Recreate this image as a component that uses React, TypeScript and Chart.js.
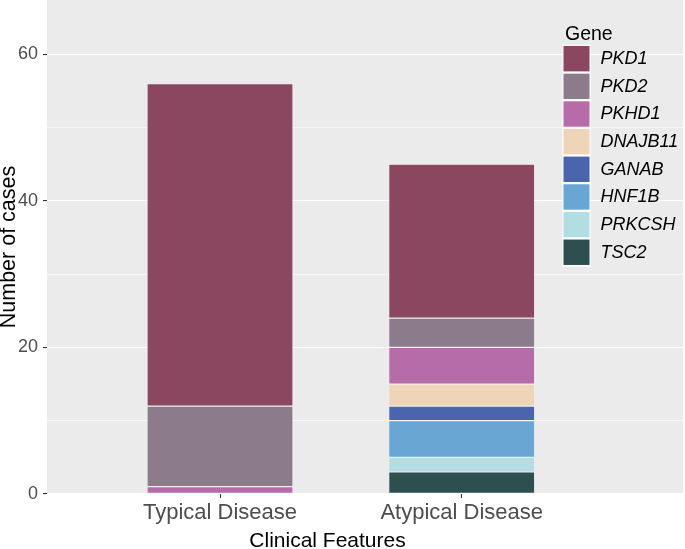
import React, { useEffect, useRef } from "react";
import { Chart, registerables } from "chart.js";

Chart.register(...registerables);

const categories = ["Typical Disease", "Atypical Disease"];
const genes = ["PKD1", "PKD2", "PKHD1", "DNAJB11", "GANAB", "HNF1B", "PRKCSH", "TSC2"];
const typicalCounts = [44, 11, 1, 0, 0, 0, 0, 0];
const atypicalCounts = [21, 4, 5, 3, 2, 5, 2, 3];
const geneColors = ["#8B4660", "#8C7B8B", "#B66CA8", "#EFD5B7", "#4A64AE", "#6AA6D3", "#B3DDE3", "#2E4F4F"];
const yMajorTicks = [0, 20, 40, 60];
const yMinorTicks = [10, 30, 50];
const xTitle = "Clinical Features";
const yTitle = "Number of cases";
const legendTitle = "Gene";

const FONT = "'Liberation Sans', Arial, Helvetica, sans-serif";

export default function App() {
  const ref = useRef<HTMLCanvasElement | null>(null);

  useEffect(() => {
    document.body.style.margin = "0";
    const canvas = ref.current;
    if (!canvas) return;

    // stack bottom-up: last gene at the bottom
    const order = genes.map((_, i) => i).reverse();
    const datasets = order.map((i) => ({
      label: genes[i],
      backgroundColor: geneColors[i],
      borderColor: "rgba(255,255,255,0.35)",
      borderWidth: 0.6,
      borderSkipped: false,
      barPercentage: 0.604,
      categoryPercentage: 1,
      data: [
        { x: 1, y: typicalCounts[i] },
        { x: 2, y: atypicalCounts[i] },
      ].filter((p) => p.y > 0),
    }));

    const panelBg = {
      id: "panelBg",
      beforeDraw(chart: any) {
        const { ctx, chartArea } = chart;
        ctx.save();
        ctx.fillStyle = "#EBEBEB";
        ctx.fillRect(chartArea.left, chartArea.top, chartArea.right - chartArea.left, chartArea.bottom - chartArea.top);
        ctx.restore();
      },
    };

    const overlay = {
      id: "overlay",
      afterDraw(chart: any) {
        const { ctx } = chart;
        ctx.save();
        // x axis title
        ctx.fillStyle = "#000000";
        ctx.font = `21px ${FONT}`;
        ctx.textAlign = "center";
        ctx.textBaseline = "alphabetic";
        ctx.fillText(xTitle, 327.5, 547);

        // legend
        ctx.textAlign = "left";
        ctx.font = `19.5px ${FONT}`;
        ctx.fillText(legendTitle, 565, 40);
        const kx = 563.5;
        const ky = 46;
        const step = 27.65;
        ctx.fillStyle = "#FFFFFF";
        ctx.fillRect(kx - 1, ky - 1.2, 28, step * genes.length + 0.6);
        genes.forEach((g, i) => {
          const y = ky + i * step;
          ctx.fillStyle = geneColors[i];
          ctx.fillRect(kx, y, 26, 25.4);
          ctx.fillStyle = "#000000";
          ctx.font = `italic 18px ${FONT}`;
          ctx.textBaseline = "middle";
          ctx.fillText(g, 600.5, y + 13);
        });
        ctx.restore();
      },
    };

    const chart = new Chart(canvas, {
      type: "bar",
      data: { datasets: datasets as any },
      plugins: [panelBg, overlay],
      options: {
        responsive: false,
        animation: false,
        devicePixelRatio: 1,
        layout: { padding: { top: 0, right: 2, left: 0, bottom: 0 } },
        plugins: {
          legend: { display: false },
          tooltip: { enabled: false },
        },
        scales: {
          x: {
            type: "linear",
            stacked: true,
            offset: false,
            min: 0.2842,
            max: 2.9156,
            afterBuildTicks(scale: any) {
              scale.ticks = categories.map((_, i) => ({ value: i + 1 }));
            },
            afterFit(scale: any) {
              scale.height = 55;
              scale.paddingLeft = 0;
              scale.paddingRight = 0;
            },
            grid: {
              offset: false,
              drawOnChartArea: false,
              drawTicks: true,
              tickLength: 4,
              tickColor: "#333333",
              tickWidth: 1.1,
            },
            border: { display: false },
            ticks: {
              autoSkip: false,
              maxRotation: 0,
              padding: 2,
              color: "#4D4D4D",
              font: { family: FONT, size: 22 },
              callback: (v: any) => categories[Math.round(Number(v)) - 1] ?? "",
            },
            title: { display: false },
          },
          y: {
            type: "linear",
            stacked: true,
            min: 0,
            max: 67.4,
            afterBuildTicks(scale: any) {
              scale.ticks = [...yMajorTicks, ...yMinorTicks]
                .sort((a, b) => a - b)
                .map((v) => ({ value: v }));
            },
            afterFit(scale: any) {
              scale.width = 47;
              scale.paddingTop = 0;
              scale.paddingBottom = 0;
            },
            grid: {
              color: "#FFFFFF",
              lineWidth: (c: any) => (yMajorTicks.includes(c.tick?.value) ? 1.1 : 0.55),
              tickColor: (c: any) => (yMajorTicks.includes(c.tick?.value) ? "#333333" : "rgba(0,0,0,0)"),
              tickLength: 4,
              tickWidth: 1.1,
            },
            border: { display: false },
            ticks: {
              padding: 5,
              color: "#4D4D4D",
              font: { family: FONT, size: 18 },
              callback: (v: any) => (yMajorTicks.includes(Number(v)) ? String(v) : ""),
            },
            title: {
              display: true,
              text: yTitle,
              color: "#000000",
              font: { family: FONT, size: 21.5, lineHeight: 1 },
              padding: { top: -1.5, bottom: 0 },
            },
          },
        },
      },
    });

    return () => chart.destroy();
  }, []);

  return (
    <div style={{ position: "absolute", left: 0, top: 0, width: 685, height: 549, background: "#FFFFFF" }}>
      <canvas ref={ref} width={685} height={549} style={{ width: 685, height: 549, display: "block" }} />
    </div>
  );
}
